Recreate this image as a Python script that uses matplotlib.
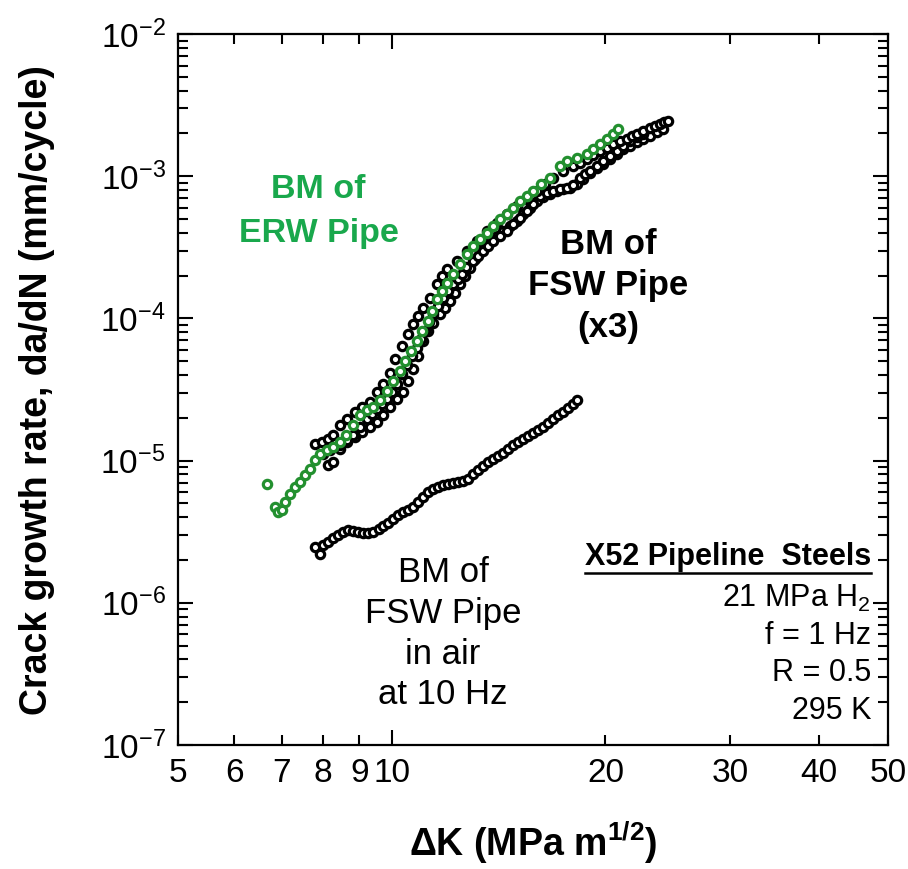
import matplotlib
matplotlib.use('Agg')
import matplotlib.pyplot as plt
from matplotlib.ticker import FixedLocator, FixedFormatter, LogLocator, NullFormatter, FuncFormatter
from matplotlib.lines import Line2D
import numpy as np

plt.rcParams['font.family'] = ['Liberation Sans', 'DejaVu Sans']
plt.rcParams['mathtext.fontset'] = 'custom'
plt.rcParams['mathtext.rm'] = 'Liberation Sans'
plt.rcParams['mathtext.it'] = 'Liberation Sans:italic'
plt.rcParams['mathtext.bf'] = 'Liberation Sans:bold'

# ---------------- data ----------------
# BM of ERW pipe in 21 MPa H2 (green)
erw_dK = [6.67, 6.85, 6.92, 7.01, 7.08, 7.19, 7.31, 7.42, 7.54, 7.67, 7.80, 7.92, 8.11, 8.27,
          8.45, 8.63, 8.82, 9.02, 9.23, 9.42, 9.63, 9.85, 10.05, 10.27, 10.44, 10.63, 10.86,
          11.03, 11.24, 11.40, 11.59, 11.78, 11.97, 12.21, 12.48, 12.77, 13.03, 13.31, 13.62,
          13.90, 14.21, 14.53, 14.83, 15.17, 15.50, 15.81, 16.21, 16.71, 17.26, 17.65, 18.24,
          18.84, 19.21, 19.64, 20.10, 20.50, 20.84]
erw_dadN = [6.89e-6, 4.74e-6, 4.37e-6, 4.52e-6, 5.14e-6, 5.86e-6, 6.56e-6, 7.11e-6, 7.97e-6,
            8.78e-6, 1.016e-5, 1.12e-5, 1.195e-5, 1.255e-5, 1.361e-5, 1.524e-5, 1.793e-5,
            2.109e-5, 2.287e-5, 2.401e-5, 2.689e-5, 3.062e-5, 3.60e-5, 4.235e-5, 4.981e-5,
            5.857e-5, 6.887e-5, 8.101e-5, 9.526e-5, 1.12e-4, 1.361e-4, 1.549e-4, 1.764e-4,
            2.041e-4, 2.401e-4, 2.823e-4, 3.214e-4, 3.60e-4, 3.968e-4, 4.446e-4, 4.981e-4,
            5.40e-4, 5.952e-4, 6.668e-4, 7.23e-4, 7.843e-4, 8.786e-4, 9.68e-4, 1.176e-3,
            1.275e-3, 1.339e-3, 1.429e-3, 1.549e-3, 1.68e-3, 1.822e-3, 1.976e-3, 2.143e-3]

# BM of FSW pipe in 21 MPa H2, three specimens (black)
fsw1_dK = [7.80, 7.98, 8.13, 8.27, 8.46, 8.65, 8.88, 9.08, 9.32, 9.54, 9.72, 9.95, 10.11,
           10.34, 10.54, 10.71, 10.89, 11.07, 11.32, 11.58, 11.78, 11.97, 12.36, 12.77, 13.19,
           13.63, 14.08, 14.54, 15.02, 15.51, 16.02, 16.45, 16.87, 17.44, 18.00, 18.42, 18.84,
           19.22, 19.66, 20.11, 20.51, 20.98, 21.46, 21.81, 22.17, 22.60, 23.12, 23.50, 23.88,
           24.19, 24.51]
fsw1_dadN = [1.30e-5, 1.36e-5, 1.43e-5, 1.52e-5, 1.79e-5, 1.97e-5, 2.21e-5, 2.40e-5, 2.60e-5,
             3.06e-5, 3.43e-5, 4.10e-5, 5.15e-5, 6.36e-5, 7.71e-5, 9.08e-5, 1.033e-4, 1.176e-4,
             1.383e-4, 1.735e-4, 1.977e-4, 2.214e-4, 2.52e-4, 2.96e-4, 3.49e-4, 4.10e-4,
             4.67e-4, 5.40e-4, 6.15e-4, 6.89e-4, 7.84e-4, 8.78e-4, 9.68e-4, 1.084e-3, 1.176e-3,
             1.234e-3, 1.317e-3, 1.406e-3, 1.50e-3, 1.575e-3, 1.68e-3, 1.764e-3, 1.822e-3,
             1.913e-3, 1.975e-3, 2.074e-3, 2.178e-3, 2.248e-3, 2.324e-3, 2.40e-3, 2.44e-3]

fsw2_dK = [8.00, 8.19, 8.46, 8.65, 8.82, 9.02, 9.23, 9.38, 9.54, 9.69, 9.85, 10.01, 10.17,
           10.34, 10.51, 10.68, 10.85, 11.00, 11.14, 11.28, 11.43, 11.62, 11.81, 12.01, 12.20,
           12.40, 12.56, 12.72, 13.02, 13.23, 13.45, 13.67, 13.89, 14.21, 14.54, 14.82, 15.16,
           15.51, 15.81, 16.18, 16.55, 16.87, 17.27, 17.67, 18.00, 18.42, 18.72, 19.03, 19.47,
           19.85, 20.31, 20.78, 21.19, 21.67, 22.17, 22.60]
fsw2_dadN = [1.12e-5, 1.195e-5, 1.296e-5, 1.405e-5, 1.524e-5, 1.734e-5, 1.97e-5, 2.14e-5,
             2.32e-5, 2.52e-5, 2.73e-5, 3.06e-5, 3.43e-5, 4.04e-5, 4.74e-5, 5.41e-5, 6.15e-5,
             7.12e-5, 8.10e-5, 9.38e-5, 1.067e-4, 1.214e-4, 1.383e-4, 1.549e-4, 1.735e-4,
             1.882e-4, 2.041e-4, 2.287e-4, 2.52e-4, 2.73e-4, 2.96e-4, 3.22e-4, 3.49e-4,
             3.78e-4, 4.10e-4, 4.59e-4, 5.06e-4, 5.67e-4, 6.35e-4, 7.23e-4, 7.59e-4, 7.84e-4,
             8.10e-4, 8.23e-4, 8.64e-4, 9.68e-4, 1.032e-3, 1.084e-3, 1.176e-3, 1.275e-3,
             1.384e-3, 1.50e-3, 1.627e-3, 1.764e-3, 1.882e-3, 1.975e-3]

fsw3_dK = [8.13, 8.27, 8.46, 8.65, 8.88, 9.08, 9.32, 9.54, 9.72, 9.95, 10.17, 10.37, 10.54,
           10.71, 10.89, 11.07, 11.25, 11.43, 11.70, 11.89, 12.08, 12.28, 12.48, 12.68, 12.89,
           13.10, 13.32, 13.54, 13.76, 14.08, 14.35, 14.68, 15.02, 15.31, 15.66, 16.02, 16.34,
           16.71, 17.09, 17.44, 17.83, 18.24, 18.60, 19.03, 19.47, 19.85, 20.31, 20.78, 21.19,
           21.67, 22.17, 22.60, 23.12, 23.65, 24.11]
fsw3_dadN = [9.37e-6, 9.84e-6, 1.214e-5, 1.36e-5, 1.476e-5, 1.60e-5, 1.734e-5, 1.88e-5,
             2.105e-5, 2.40e-5, 2.69e-5, 3.06e-5, 3.60e-5, 4.38e-5, 5.41e-5, 6.89e-5, 8.10e-5,
             9.23e-5, 1.067e-4, 1.176e-4, 1.317e-4, 1.50e-4, 1.735e-4, 1.977e-4, 2.25e-4,
             2.60e-4, 2.96e-4, 3.22e-4, 3.49e-4, 3.78e-4, 4.10e-4, 4.45e-4, 4.82e-4, 5.40e-4,
             5.95e-4, 6.67e-4, 7.11e-4, 7.47e-4, 7.84e-4, 8.10e-4, 8.23e-4, 8.78e-4, 9.52e-4,
             1.049e-3, 1.138e-3, 1.214e-3, 1.317e-3, 1.429e-3, 1.549e-3, 1.627e-3, 1.736e-3,
             1.822e-3, 1.913e-3, 2.04e-3, 2.143e-3]

# BM of FSW pipe in air at 10 Hz (black)
air_dK = [7.80, 7.92, 8.01, 8.14, 8.27, 8.41, 8.55, 8.69, 8.83, 8.97, 9.12, 9.27, 9.42, 9.58,
          9.73, 9.89, 10.05, 10.22, 10.38, 10.55, 10.73, 10.90, 11.08, 11.26, 11.44, 11.63,
          11.82, 12.01, 12.21, 12.41, 12.61, 12.82, 13.03, 13.24, 13.46, 13.68, 13.90, 14.13,
          14.36, 14.59, 14.83, 15.07, 15.32, 15.57, 15.82, 16.08, 16.34, 16.61, 16.88, 17.16,
          17.44, 17.72, 18.01, 18.24]
air_dadN = [2.48e-6, 2.21e-6, 2.56e-6, 2.69e-6, 2.87e-6, 3.01e-6, 3.16e-6, 3.27e-6, 3.21e-6,
            3.16e-6, 3.11e-6, 3.11e-6, 3.16e-6, 3.32e-6, 3.49e-6, 3.66e-6, 3.91e-6, 4.17e-6,
            4.37e-6, 4.52e-6, 4.74e-6, 5.14e-6, 5.58e-6, 6.05e-6, 6.35e-6, 6.56e-6, 6.78e-6,
            6.89e-6, 7.00e-6, 7.11e-6, 7.23e-6, 7.47e-6, 8.10e-6, 8.64e-6, 9.22e-6, 9.84e-6,
            1.033e-5, 1.084e-5, 1.139e-5, 1.215e-5, 1.296e-5, 1.361e-5, 1.429e-5, 1.50e-5,
            1.575e-5, 1.653e-5, 1.736e-5, 1.852e-5, 1.976e-5, 2.109e-5, 2.214e-5, 2.362e-5,
            2.52e-5, 2.689e-5]

x_major = [10]
x_minor = [5, 6, 7, 8, 9, 20, 30, 40, 50]
x_minor_labels = ['5', '6', '7', '8', '9', '20', '30', '40', '50']

GREEN_TXT = '#19a84c'
GREEN_MK = '#23902f'

# ---------------- figure ----------------
W, H = 908, 869
fig = plt.figure(figsize=(W / 100, H / 100), dpi=100)
ax = fig.add_axes([178 / W, 1 - 745 / H, 710 / W, 711 / H])
ax.set_xscale('log')
ax.set_yscale('log')
ax.set_xlim(5, 50)
ax.set_ylim(1e-7, 1e-2)

mk = dict(linestyle='none', marker='o', markersize=6.0, markeredgewidth=2.3,
          markerfacecolor='white')
for kx, ky in [(fsw3_dK, fsw3_dadN), (fsw2_dK, fsw2_dadN), (fsw1_dK, fsw1_dadN)]:
    ax.plot(kx, ky, markeredgecolor='black', **mk)
ax.plot(erw_dK, erw_dadN, markeredgecolor=GREEN_MK, **mk)
ax.plot(air_dK, air_dadN, markeredgecolor='black', **mk)

# ticks
ax.xaxis.set_major_locator(FixedLocator(x_major))
ax.xaxis.set_major_formatter(FixedFormatter(['10']))
ax.xaxis.set_minor_locator(FixedLocator(x_minor))
ax.xaxis.set_minor_formatter(FixedFormatter(x_minor_labels))
ax.yaxis.set_major_locator(LogLocator(base=10, numticks=20))
ax.yaxis.set_major_formatter(FuncFormatter(
    lambda v, p: r'$\mathregular{10^{%d}}$' % int(round(np.log10(v)))))
ax.yaxis.set_minor_locator(LogLocator(base=10, subs=np.arange(2, 10), numticks=50))
ax.yaxis.set_minor_formatter(NullFormatter())

ax.tick_params(which='both', direction='in', top=True, right=True, width=1.5, colors='black')
ax.tick_params(which='major', length=11)
ax.tick_params(which='minor', length=7)
ax.tick_params(axis='x', which='both', labelsize=24, pad=9)
ax.tick_params(axis='y', which='both', labelsize=24, pad=9)
for s in ax.spines.values():
    s.set_linewidth(1.6)

# axis labels
fig.text(37 / W, 1 - 390 / H, 'Crack growth rate, da/dN (mm/cycle)', rotation=90,
         ha='center', va='center', fontsize=27, fontweight='bold')
fig.text(533 / W, 1 - 843 / H, r'ΔK (MPa m$^{\mathbf{1/2}}$)', ha='center', va='center',
         fontsize=27, fontweight='bold')

def ftxt(x, y, s, **kw):
    return fig.text(x / W, 1 - y / H, s, **kw)

# annotations
ftxt(318, 190, 'BM of', ha='center', va='center', fontsize=24.5, fontweight='bold', color=GREEN_TXT)
ftxt(319, 234, 'ERW Pipe', ha='center', va='center', fontsize=24.5, fontweight='bold', color=GREEN_TXT)

ftxt(608, 245, 'BM of', ha='center', va='center', fontsize=25, fontweight='bold')
ftxt(608, 286, 'FSW Pipe', ha='center', va='center', fontsize=25, fontweight='bold')
ftxt(608, 328, '(x3)', ha='center', va='center', fontsize=25, fontweight='bold')

for yy, s in [(573, 'BM of'), (613, 'FSW Pipe'), (654, 'in air'), (694, 'at 10 Hz')]:
    ftxt(443, yy, s, ha='center', va='center', fontsize=25)

t52 = ftxt(871, 557, 'X52 Pipeline  Steels', ha='right', va='center', fontsize=22, fontweight='bold')
ftxt(871, 598, r'21 MPa H$_\mathregular{2}$', ha='right', va='center', fontsize=22)
ftxt(871, 636, 'f = 1 Hz', ha='right', va='center', fontsize=22)
ftxt(871, 673, 'R = 0.5', ha='right', va='center', fontsize=22)
ftxt(871, 711, '295 K', ha='right', va='center', fontsize=22)

fig.canvas.draw()
bb = t52.get_window_extent()
fig.add_artist(Line2D([bb.x0 / W, bb.x1 / W], [(bb.y0 - 1) / H, (bb.y0 - 1) / H],
                      transform=fig.transFigure, color='black', linewidth=1.8))

fig.savefig('out.png', dpi=100)
